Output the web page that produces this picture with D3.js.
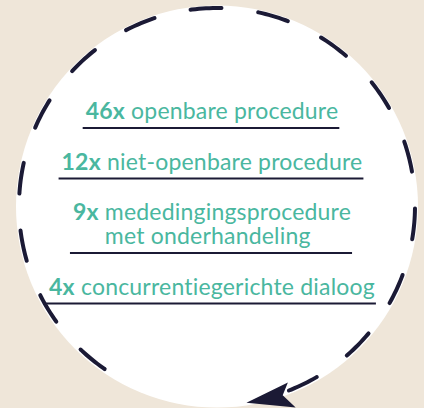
<!DOCTYPE html>
<html>
<head>
<meta charset="utf-8">
<script src="https://cdn.jsdelivr.net/npm/d3@7"></script>
<style>
  html, body { margin: 0; padding: 0; background: #efe6d9; }
  svg { display: block; }
</style>
</head>
<body>
<svg id="chart"></svg>
<script>
// procedure counts, shown as text around one dashed cycle
let counts = ['46x', '12x', '9x', '4x'];
let labels = [
  ['openbare procedure'],
  ['niet-openbare procedure'],
  ['mededingingsprocedure', 'met onderhandeling'],
  ['concurrentiegerichte dialoog']
];

let width  = 424,
    height = 408;
let cx = 217, cy = 206,
    r  = 198;
let textX = 212;
let fontSize = 23;
let teal = '#4ab79f',
    navy = '#1b1a35';

let svg = d3.select('#chart')
    .attr('width', width)
    .attr('height', height);

svg.append('rect')
    .attr('width', width)
    .attr('height', height)
    .attr('fill', '#efe6d9');

// white disc
svg.append('circle')
    .attr('cx', cx)
    .attr('cy', cy + 0.5)
    .attr('r', r + 3)
    .attr('fill', '#ffffff');

// dashed arc, clockwise from bottom left round to the arrow
let deg = Math.PI / 180;
let startA = 124 * deg,
    endA   = 430 * deg;
let arcPts = d3.range(0, 301).map(i => {
  let a = startA + (endA - startA) * i / 300;
  return [cx + r * Math.cos(a), cy + r * Math.sin(a)];
});
svg.append('path')
    .attr('d', d3.line()(arcPts))
    .attr('fill', 'none')
    .attr('stroke', navy)
    .attr('stroke-width', 4)
    .attr('stroke-linecap', 'round')
    .attr('stroke-dasharray', '31 37')
    .attr('stroke-dashoffset', -2);

// arrow head at the end, pointing along the tangent
let tipA = 81.5 * deg;
let tip = [cx + (r + 1) * Math.cos(tipA), cy + (r + 1) * Math.sin(tipA)];
let dir = Math.atan2(Math.cos(tipA), -Math.sin(tipA)) / deg; // tangent, travel direction
svg.append('path')
    .attr('transform', `translate(${tip[0]},${tip[1]}) rotate(${dir + 180})`)
    .attr('d', 'M0,0 L44,-14 L37,-2 L48,12 Z')
    .attr('fill', navy);

// text block
let lineH = 24, itemGap = 50.5;
let y0 = 119;
let extra = 0;
labels.forEach((lines, i) => {
  let base = y0 + itemGap * i + lineH * extra;
  let g = svg.append('g');

  let t = g.append('text')
      .attr('y', base)
      .attr('font-family', 'Lato, "Noto Sans", sans-serif')
      .attr('font-size', fontSize)
      .attr('letter-spacing', 0.2)
      .attr('fill', teal);
  let cnt = t.append('tspan')
      .attr('font-weight', 700)
      .text(counts[i]);
  t.append('tspan')
      .attr('font-weight', 400)
      .text(' ' + lines[0]);

  let w = t.node().getComputedTextLength();
  let x0 = textX - w / 2;
  cnt.attr('x', x0);

  let labelX = t.node().getStartPositionOfChar(counts[i].length + 1).x;

  // extra lines go in the same text, aligned under the label
  lines.slice(1).forEach((ln, k) => {
    t.append('tspan')
        .attr('font-weight', 400)
        .attr('x', labelX)
        .attr('y', base + lineH * (k + 1))
        .text(ln);
  });

  let lastBase = base + lineH * (lines.length - 1);
  g.append('line')
      .attr('x1', x0 - 3)
      .attr('x2', x0 + w + 1)
      .attr('y1', lastBase + 9)
      .attr('y2', lastBase + 9)
      .attr('stroke', navy)
      .attr('stroke-width', 2);

  extra += lines.length - 1;
});
</script>
</body>
</html>
